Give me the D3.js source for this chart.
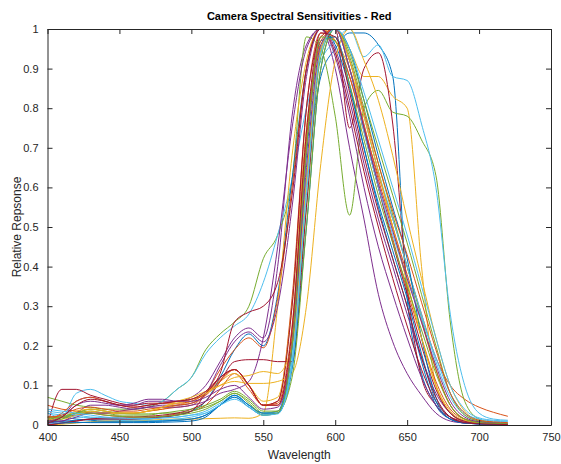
<!DOCTYPE html>
<html>
<head>
<meta charset="utf-8">
<script src="https://cdn.jsdelivr.net/npm/d3@7"></script>
<style>
  body { margin: 0; background: #fff; }
  svg text { font-family: "Liberation Sans", Arial, Helvetica, sans-serif; fill: #262626; }
</style>
</head>
<body>
<div id="chart"></div>
<script>
// wavelengths (nm), one sample every 10 nm
const wavelengths = d3.range(400, 721, 10);

// red channel response of each camera
const cam01 = [.02,.02,.015,.012,.01,.01,.01,.01,.01,.012, .015,.025,.05,.075,.05,.03,.035,.2,.62,.88, .95,.99,.99,.96,.88,.32,.13,.05,.015,.005, .003,.002,.002];
const cam02 = [.05,.04,.035,.03,.025,.022,.02,.02,.022,.028, .035,.05,.09,.13,.09,.05,.06,.32,.80,.99, .97,.88,.75,.63,.52,.40,.28,.17,.10,.065, .045,.032,.022];
const cam03 = [.02,.02,.03,.04,.035,.03,.03,.035,.04,.05, .06,.08,.11,.13,.10,.06,.07,.30,.75,.96, 1.0,.95,.88,.88,.83,.80,.40,.10,.03,.01, .005,.003,.002];
const cam04 = [.01,.02,.06,.07,.06,.05,.05,.06,.06,.06, .07,.10,.16,.22,.245,.22,.40,.78,.96,1.0, .90,.70,.52,.33,.21,.13,.075,.03,.01,.005, .003,.002,.001];
const cam05 = [.07,.06,.05,.045,.04,.04,.04,.045,.06,.09, .12,.19,.23,.26,.30,.42,.48,.62,.98,.95, .78,.53,.80,.845,.79,.78,.72,.63,.26,.06, .015,.006,.004];
const cam06 = [.03,.02,.08,.09,.075,.06,.055,.05,.06,.09, .12,.18,.22,.25,.28,.36,.48,.62,.80,.92, .97,1.0,.93,.96,.88,.87,.76,.60,.28,.10, .03,.015,.012];
const cam07 = [.0,.09,.09,.075,.065,.055,.05,.055,.055,.06, .065,.08,.12,.14,.10,.05,.06,.30,.80,.98, 1.0,.75,.90,.94,.76,.35,.12,.05,.02,.01, .005,.003,.002];
const cam08 = [.01,.01,.012,.015,.015,.015,.015,.015,.02,.025, .035,.06,.12,.19,.23,.20,.33,.62,.90,1.0, .96,.85,.70,.55,.42,.30,.16,.05,.015,.005, .003,.002,.001];
const cam09 = [.02,.02,.025,.03,.03,.03,.03,.035,.04,.045, .05,.08,.14,.19,.22,.195,.32,.60,.90,1.0, .97,.88,.74,.60,.47,.34,.22,.11,.04,.015, .007,.004,.003];
const cam10 = [.0,.002,.005,.008,.01,.01,.01,.012,.014,.015, .015,.016,.017,.018,.017,.03,.30,.68,.92,1.0, .97,.90,.78,.64,.50,.36,.22,.10,.03,.01, .005,.003,.002];
const cam11 = [.01,.01,.03,.05,.05,.045,.04,.045,.05,.05, .055,.08,.15,.21,.235,.21,.30,.55,.88,1.0, .95,.82,.66,.52,.40,.28,.17,.08,.03,.01, .005,.003,.002];
const cam12 = [.02,.02,.03,.035,.03,.025,.025,.025,.03,.03, .035,.045,.06,.08,.06,.03,.035,.16,.55,.93, 1.0,.93,.80,.66,.53,.40,.27,.14,.05,.015, .007,.004,.003];
const cam13 = [.03,.025,.02,.018,.015,.012,.01,.01,.012,.015, .02,.03,.05,.07,.05,.025,.03,.18,.62,.95, 1.0,.92,.78,.64,.52,.40,.28,.16,.07,.025, .01,.006,.004];
const cam14 = [.0,.005,.01,.015,.018,.02,.02,.022,.025,.03, .04,.06,.11,.16,.165,.165,.16,.16,.55,.95, 1.0,.90,.75,.60,.46,.33,.20,.09,.03,.01, .005,.003,.002];
const cam15 = [.01,.008,.007,.006,.006,.006,.006,.006,.007,.008, .01,.02,.05,.07,.045,.025,.03,.14,.50,.90, 1.0,.95,.82,.68,.55,.42,.22,.07,.02,.006, .003,.002,.001];
const cam16 = [.01,.03,.06,.07,.06,.05,.045,.05,.055,.055, .06,.08,.115,.14,.10,.05,.055,.25,.72,.98, 1.0,.90,.76,.62,.50,.38,.26,.14,.05,.015, .007,.004,.003];
const cam17 = [.015,.015,.025,.035,.03,.03,.03,.035,.045,.06, .07,.085,.10,.11,.105,.105,.11,.13,.30,.66, .92,1.0,.92,.82,.68,.52,.37,.22,.10,.035, .012,.006,.004];
const cam18 = [.005,.01,.02,.03,.03,.035,.04,.045,.045,.045, .05,.06,.08,.09,.11,.22,.45,.75,.95,1.0, .93,.78,.60,.45,.33,.22,.12,.05,.015,.005, .003,.002,.001];
const cam19 = [.01,.015,.03,.04,.035,.03,.028,.028,.03,.035, .04,.05,.065,.085,.065,.035,.035,.12,.50,.90, 1.0,.94,.82,.70,.58,.46,.33,.20,.08,.025, .01,.006,.004];
const cam20 = [.035,.03,.025,.02,.018,.016,.015,.015,.018,.02, .025,.035,.055,.075,.05,.03,.03,.15,.60,.95, 1.0,.90,.74,.60,.48,.37,.27,.17,.08,.03, .015,.01,.008];
const cam21 = [.0,.005,.01,.015,.015,.015,.015,.018,.02,.025, .035,.08,.13,.26,.285,.30,.36,.58,.90,1.0, .94,.80,.64,.50,.37,.25,.14,.06,.02,.007, .004,.002,.001];
const cam22 = [.005,.005,.006,.007,.008,.008,.008,.009,.01,.012, .015,.025,.05,.075,.05,.03,.03,.20,.68,.97, .98,.86,.70,.56,.44,.32,.18,.06,.015,.005, .003,.002,.001];
const cam23 = [.02,.025,.04,.045,.04,.035,.035,.04,.045,.05, .055,.075,.11,.14,.10,.05,.05,.22,.70,.97, 1.0,.92,.79,.66,.54,.43,.31,.19,.08,.03, .012,.008,.006];
const cam24 = [.01,.02,.035,.04,.035,.03,.03,.035,.045,.055, .065,.08,.10,.12,.125,.135,.13,.20,.62,.95, 1.0,.92,.78,.64,.50,.36,.22,.10,.035,.012, .006,.004,.003];
const cam25 = [.01,.02,.05,.06,.055,.05,.055,.065,.065,.06, .06,.07,.09,.10,.07,.04,.045,.20,.65,.96, 1.0,.90,.75,.61,.49,.37,.26,.15,.06,.02, .008,.005,.003];
const cam26 = [.015,.02,.03,.03,.025,.022,.02,.02,.022,.025, .03,.04,.06,.08,.055,.025,.03,.20,.70,.98, .97,.86,.72,.58,.46,.35,.24,.13,.05,.015, .006,.004,.003];
const cam27 = [.04,.035,.03,.025,.02,.018,.016,.016,.018,.02, .025,.03,.05,.065,.045,.025,.028,.16,.58,.94, 1.0,.95,.84,.72,.60,.48,.35,.22,.10,.04, .018,.012,.01];
const cam28 = [.005,.02,.05,.065,.06,.05,.045,.05,.055,.06, .065,.085,.12,.14,.10,.05,.05,.24,.74,.99, .98,.84,.68,.54,.42,.30,.17,.07,.02,.006, .003,.002,.001];

const cameras = [cam01, cam02, cam03, cam04, cam05, cam06, cam07, cam08, cam09, cam10,
                 cam11, cam12, cam13, cam14, cam15, cam16, cam17, cam18, cam19, cam20,
                 cam21, cam22, cam23, cam24, cam25, cam26, cam27, cam28];

const xTicks = [400, 450, 500, 550, 600, 650, 700, 750];
const yTicks = [0, 0.1, 0.2, 0.3, 0.4, 0.5, 0.6, 0.7, 0.8, 0.9, 1];

// matlab default line colour order
const colors = ["#0072BD", "#D95319", "#EDB120", "#7E2F8E", "#77AC30", "#4DBEEE", "#A2142F"];

const W = 561, H = 464;
const margin = {top: 29, right: 10, bottom: 39, left: 47.5};

const svg = d3.select("#chart").append("svg")
  .attr("width", W)
  .attr("height", H);

const x = d3.scaleLinear().domain([400, 750]).range([margin.left, W - margin.right]);
const y = d3.scaleLinear().domain([0, 1]).range([H - margin.bottom, margin.top]);

svg.append("clipPath").attr("id", "plot-clip")
  .append("rect")
  .attr("x", x(400)).attr("y", y(1))
  .attr("width", x(750) - x(400)).attr("height", y(0) - y(1));

const line = d3.line()
  .x((d, i) => x(wavelengths[i]))
  .y(d => y(d))
  .curve(d3.curveMonotoneX);

svg.append("g")
  .attr("clip-path", "url(#plot-clip)")
  .selectAll("path")
  .data(cameras)
  .join("path")
  .attr("fill", "none")
  .attr("stroke", (d, i) => colors[i % colors.length])
  .attr("stroke-width", 1)
  .attr("d", line);

// axes, ticks pointing inwards, box all round
const tick = 5;
const axisColor = "#262626";

const xAxis = g => g
  .attr("transform", `translate(0,${y(0)})`)
  .call(d3.axisBottom(x).tickValues(xTicks).tickSize(-tick).tickPadding(8).tickSizeOuter(0))
  .call(g => g.selectAll("text").attr("dy", "0.71em"));

const yAxis = g => g
  .attr("transform", `translate(${x(400)},0)`)
  .call(d3.axisLeft(y).tickValues(yTicks).tickFormat(d3.format("~g")).tickSize(-tick).tickPadding(9).tickSizeOuter(0));

const gx = svg.append("g").call(xAxis);
const gy = svg.append("g").call(yAxis);

svg.append("g")
  .attr("transform", `translate(0,${y(1)})`)
  .call(d3.axisTop(x).tickValues(xTicks).tickSize(-tick).tickFormat("").tickSizeOuter(0));

svg.append("g")
  .attr("transform", `translate(${x(750)},0)`)
  .call(d3.axisRight(y).tickValues(yTicks).tickSize(-tick).tickFormat("").tickSizeOuter(0));

svg.selectAll(".domain, .tick line")
  .attr("stroke", axisColor)
  .attr("stroke-width", 1);
svg.selectAll(".tick text")
  .attr("fill", axisColor)
  .style("font-size", "11px");

svg.append("text")
  .attr("x", (x(400) + x(750)) / 2)
  .attr("y", 20)
  .attr("text-anchor", "middle")
  .style("font-size", "11px")
  .style("font-weight", "bold")
  .style("fill", "#000")
  .text("Camera Spectral Sensitivities - Red");

svg.append("text")
  .attr("x", (x(400) + x(750)) / 2)
  .attr("y", 459)
  .attr("text-anchor", "middle")
  .style("font-size", "12px")
  .text("Wavelength");

svg.append("text")
  .attr("transform", `translate(21,${(y(0) + y(1)) / 2}) rotate(-90)`)
  .attr("text-anchor", "middle")
  .style("font-size", "12px")
  .text("Relative Repsonse");
</script>
</body>
</html>
